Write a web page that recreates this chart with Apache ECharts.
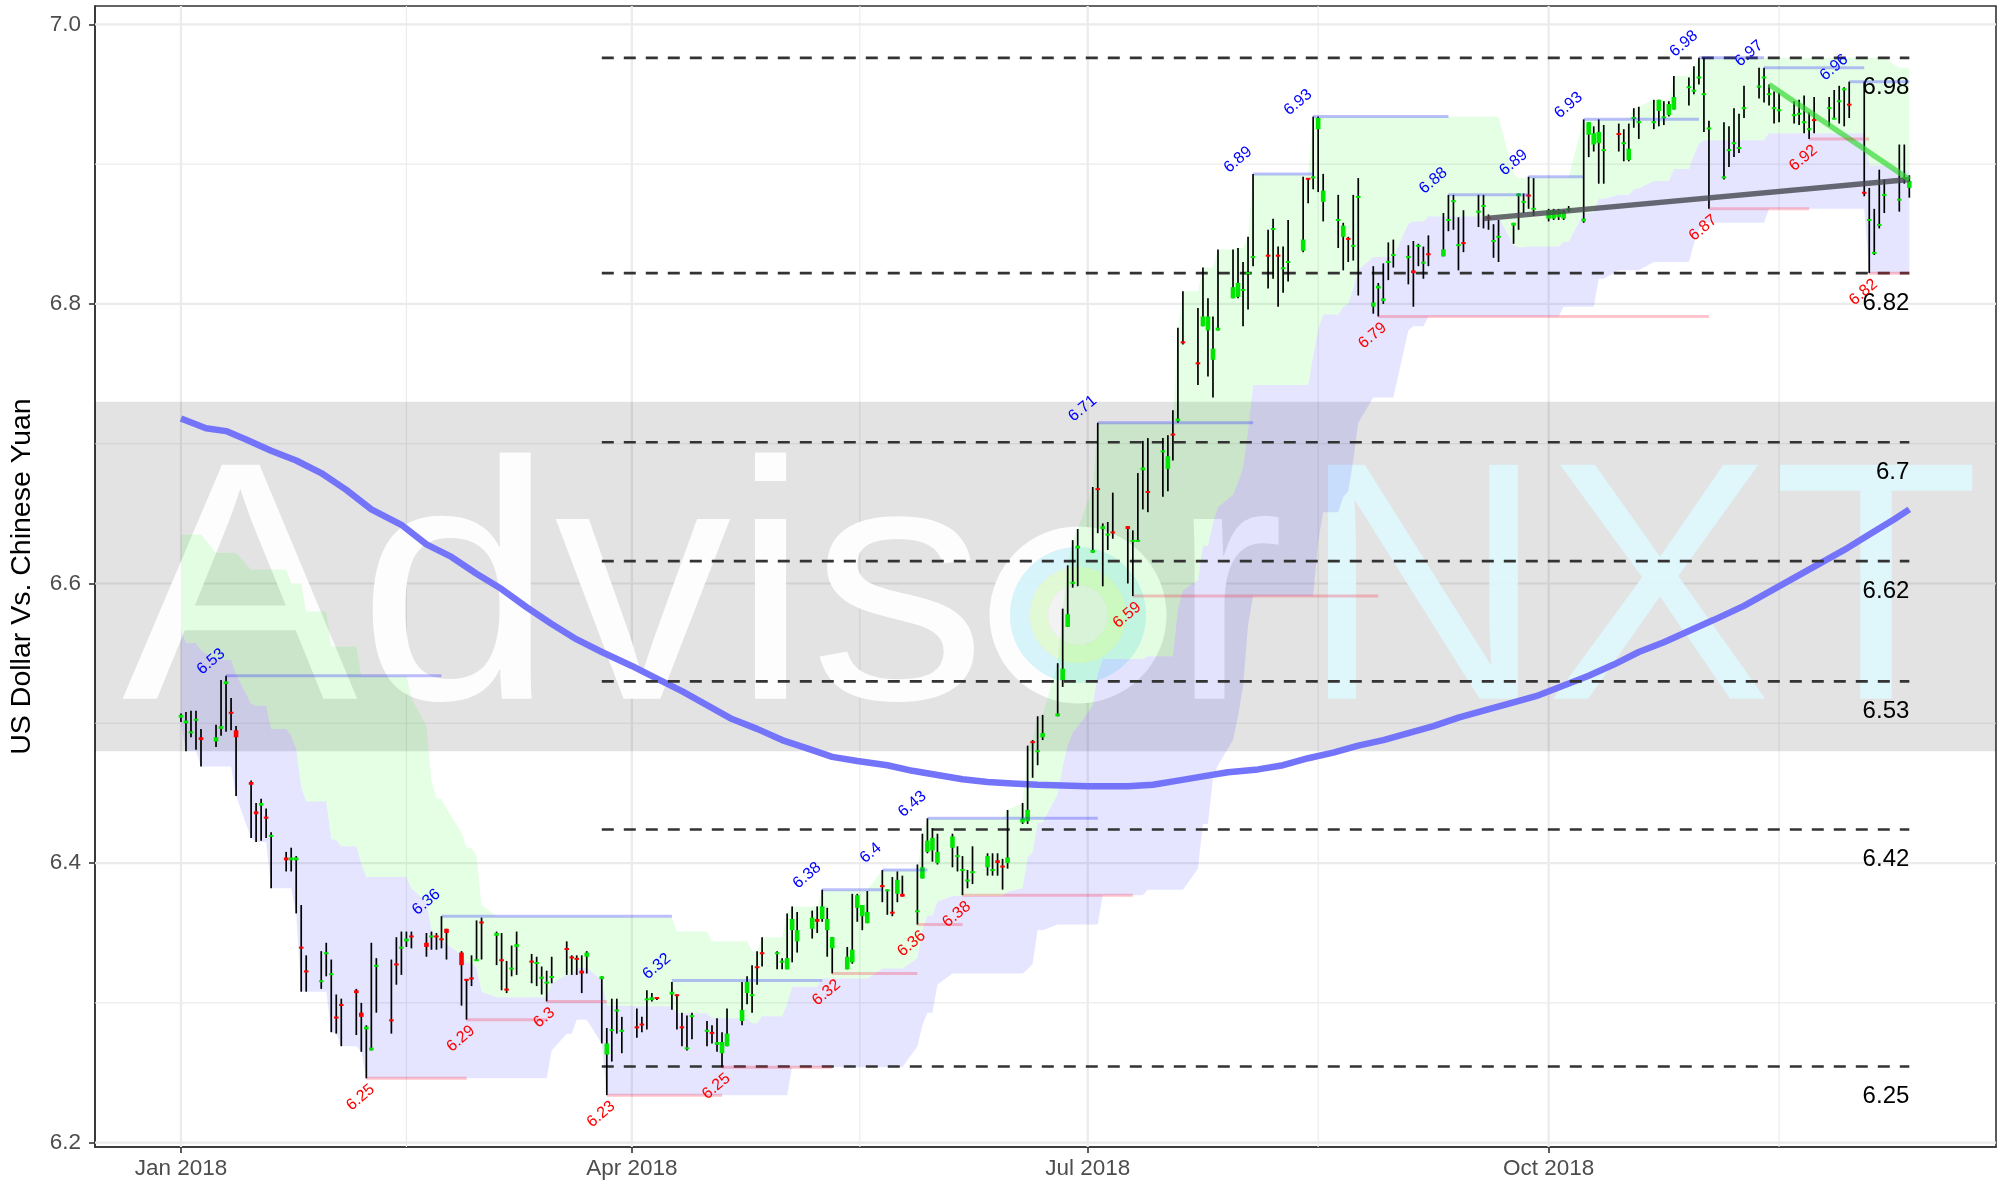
<!DOCTYPE html>
<html>
<head>
<meta charset="utf-8">
<title>US Dollar Vs. Chinese Yuan 2018</title>
<script src="https://cdn.jsdelivr.net/npm/echarts@6/dist/echarts.min.js"></script>
<style>
  html, body { margin: 0; padding: 0; background: #ffffff; }
  #chart { width: 2007px; height: 1186px; }
</style>
</head>
<body>
<div id="chart"></div>
<script>
// ---- axis setup ----
const DAY = 86400000;
const T0 = Date.UTC(2018, 0, 1);
const yMin = 6.1969, yMax = 7.0131;
const xMinDay = -17.16, xMaxDay = 362.3;
const xTickDates = ['2018-01-01', '2018-04-01', '2018-07-01', '2018-10-01'];
const xTickLabels = ['Jan 2018', 'Apr 2018', 'Jul 2018', 'Oct 2018'];
const yTicks = [6.2, 6.4, 6.6, 6.8, 7.0];
const yMinorTicks = [6.3, 6.5, 6.7, 6.9];
const bandRange = [6.48, 6.73];

// ---- daily candles, weekdays from 1 Jan 2018: [open, high, low, close] ----
const candles = [
  // Jan
  [6.504,6.507,6.501,6.506],[6.500,6.508,6.480,6.502],[6.493,6.509,6.490,6.494],[6.502,6.509,6.481,6.503],[6.490,6.496,6.469,6.488],
  [6.487,6.499,6.483,6.490],[6.496,6.531,6.491,6.498],[6.528,6.534,6.494,6.530],[6.508,6.518,6.495,6.507],[6.495,6.498,6.448,6.490],
  [6.458,6.459,6.418,6.456],[6.437,6.443,6.415,6.435],[6.441,6.446,6.416,6.443],[6.433,6.439,6.418,6.432],[6.419,6.422,6.382,6.420],
  [6.404,6.408,6.394,6.402],[6.402,6.411,6.394,6.404],[6.402,6.405,6.364,6.404],[6.340,6.370,6.308,6.339],[6.323,6.334,6.308,6.322],
  [6.315,6.337,6.310,6.316],[6.335,6.343,6.319,6.336],[6.320,6.331,6.279,6.321],[6.290,6.306,6.278,6.289],[6.299,6.303,6.269,6.298],
  // Feb
  [6.309,6.310,6.277,6.307],[6.293,6.300,6.265,6.290],[6.281,6.284,6.246,6.283],[6.266,6.343,6.266,6.268],[6.326,6.332,6.293,6.327],
  [6.288,6.331,6.278,6.287],[6.328,6.347,6.313,6.327],[6.339,6.351,6.320,6.340],[6.344,6.351,6.340,6.346],[6.348,6.351,6.339,6.347],
  [6.343,6.350,6.333,6.340],[6.347,6.351,6.338,6.348],[6.348,6.350,6.338,6.347],[6.346,6.362,6.339,6.345],[6.353,6.353,6.331,6.350],
  [6.336,6.337,6.298,6.327],[6.317,6.317,6.288,6.316],[6.318,6.334,6.312,6.317],[6.330,6.359,6.330,6.331],[6.358,6.361,6.331,6.357],
  // Mar
  [6.348,6.351,6.327,6.350],[6.331,6.350,6.309,6.330],[6.310,6.330,6.307,6.309],[6.324,6.341,6.319,6.325],[6.340,6.351,6.320,6.342],
  [6.330,6.335,6.314,6.329],[6.328,6.333,6.312,6.329],[6.318,6.326,6.306,6.318],[6.314,6.323,6.301,6.315],[6.318,6.333,6.314,6.319],
  [6.339,6.344,6.320,6.338],[6.333,6.334,6.320,6.332],[6.332,6.334,6.320,6.331],[6.323,6.334,6.307,6.321],[6.333,6.337,6.321,6.336],
  [6.317,6.319,6.271,6.319],[6.263,6.282,6.234,6.271],[6.280,6.303,6.258,6.281],[6.294,6.303,6.278,6.295],[6.280,6.290,6.264,6.280],
  // Apr
  [6.283,6.296,6.275,6.282],[6.285,6.290,6.279,6.284],[6.302,6.309,6.281,6.303],[6.302,6.307,6.301,6.304],[6.304,6.304,6.302,6.303],
  [6.306,6.315,6.295,6.308],[6.306,6.306,6.281,6.305],[6.283,6.293,6.269,6.282],[6.267,6.291,6.266,6.268],[6.290,6.293,6.274,6.291],
  [6.280,6.287,6.269,6.280],[6.279,6.284,6.271,6.278],[6.270,6.289,6.265,6.272],[6.264,6.279,6.254,6.272],[6.269,6.296,6.269,6.278],
  [6.287,6.315,6.284,6.295],[6.307,6.319,6.299,6.315],[6.305,6.327,6.293,6.306],[6.326,6.337,6.313,6.325],[6.336,6.347,6.326,6.335],
  // May
  [6.335,6.337,6.324,6.336],[6.329,6.332,6.324,6.330],[6.324,6.364,6.324,6.332],[6.352,6.369,6.329,6.360],[6.344,6.365,6.336,6.352],
  [6.353,6.366,6.346,6.361],[6.360,6.369,6.350,6.358],[6.360,6.381,6.358,6.369],[6.352,6.368,6.333,6.360],[6.339,6.347,6.321,6.347],
  [6.324,6.340,6.324,6.333],[6.329,6.378,6.328,6.338],[6.368,6.378,6.358,6.377],[6.362,6.370,6.352,6.370],[6.357,6.380,6.357,6.365],
  [6.384,6.395,6.372,6.383],[6.380,6.381,6.363,6.381],[6.365,6.390,6.362,6.364],[6.378,6.394,6.372,6.388],[6.378,6.391,6.376,6.376],
  [6.365,6.399,6.356,6.366],[6.389,6.421,6.389,6.397],[6.408,6.432,6.407,6.416],[6.409,6.425,6.401,6.418],[6.400,6.421,6.399,6.408],
  // Jun
  [6.411,6.421,6.397,6.419],[6.405,6.412,6.394,6.405],[6.395,6.405,6.377,6.395],[6.387,6.395,6.382,6.388],[6.393,6.412,6.385,6.394],
  [6.397,6.407,6.391,6.405],[6.395,6.407,6.391,6.395],[6.402,6.407,6.391,6.400],[6.398,6.403,6.381,6.397],[6.400,6.438,6.396,6.404],
  [6.429,6.443,6.428,6.432],[6.430,6.484,6.428,6.438],[6.487,6.488,6.461,6.486],[6.480,6.505,6.470,6.480],[6.490,6.506,6.488,6.493],
  [6.505,6.543,6.505,6.507],[6.531,6.582,6.526,6.539],[6.569,6.613,6.569,6.578],[6.600,6.631,6.597,6.601],[6.625,6.639,6.598,6.627],
  // Jul
  [6.622,6.669,6.622,6.624],[6.668,6.715,6.636,6.667],[6.639,6.643,6.598,6.641],[6.635,6.644,6.624,6.635],[6.637,6.665,6.632,6.636],
  [6.641,6.641,6.600,6.639],[6.630,6.638,6.591,6.631],[6.630,6.679,6.630,6.631],[6.681,6.702,6.653,6.683],[6.666,6.704,6.651,6.665],
  [6.694,6.704,6.662,6.695],[6.682,6.706,6.666,6.691],[6.707,6.724,6.688,6.706],[6.716,6.783,6.715,6.718],[6.773,6.809,6.771,6.772],
  [6.758,6.797,6.742,6.757],[6.784,6.826,6.784,6.791],[6.781,6.804,6.748,6.791],[6.760,6.791,6.733,6.768],[6.781,6.839,6.781,6.783],
  // Aug
  [6.804,6.839,6.804,6.812],[6.805,6.840,6.804,6.815],[6.810,6.830,6.784,6.810],[6.822,6.848,6.796,6.822],[6.833,6.893,6.827,6.834],
  [6.835,6.853,6.811,6.834],[6.853,6.861,6.818,6.854],[6.835,6.841,6.798,6.834],[6.825,6.841,6.808,6.826],[6.830,6.860,6.816,6.830],
  [6.838,6.891,6.837,6.846],[6.890,6.890,6.872,6.889],[6.890,6.934,6.882,6.891],[6.925,6.934,6.880,6.933],[6.873,6.893,6.859,6.881],
  [6.860,6.878,6.840,6.860],[6.848,6.858,6.824,6.856],[6.847,6.848,6.830,6.846],[6.841,6.878,6.831,6.842],[6.876,6.890,6.806,6.877],
  [6.798,6.827,6.793,6.801],[6.811,6.815,6.791,6.813],[6.802,6.829,6.800,6.804],[6.830,6.844,6.817,6.830],[6.835,6.846,6.826,6.835],
  // Sep
  [6.833,6.842,6.814,6.834],[6.824,6.845,6.798,6.822],[6.841,6.843,6.827,6.842],[6.829,6.841,6.818,6.830],[6.836,6.849,6.827,6.835],
  [6.834,6.865,6.834,6.839],[6.860,6.878,6.852,6.860],[6.873,6.878,6.853,6.874],[6.842,6.862,6.824,6.842],[6.844,6.867,6.837,6.843],
  [6.866,6.878,6.855,6.866],[6.870,6.878,6.854,6.870],[6.862,6.864,6.853,6.861],[6.845,6.857,6.833,6.845],[6.848,6.860,6.830,6.848],
  [6.856,6.858,6.843,6.858],[6.877,6.879,6.853,6.879],[6.873,6.879,6.865,6.873],[6.878,6.891,6.868,6.877],[6.868,6.890,6.863,6.868],
  // Oct
  [6.861,6.868,6.859,6.867],[6.861,6.868,6.860,6.867],[6.862,6.868,6.860,6.867],[6.861,6.867,6.860,6.866],[6.867,6.870,6.866,6.868],
  [6.859,6.932,6.858,6.861],[6.921,6.930,6.905,6.930],[6.914,6.927,6.909,6.922],[6.915,6.932,6.886,6.923],[6.910,6.928,6.886,6.910],
  [6.922,6.929,6.909,6.921],[6.915,6.925,6.902,6.915],[6.903,6.929,6.902,6.911],[6.933,6.940,6.926,6.933],[6.930,6.941,6.918,6.930],
  [6.930,6.946,6.925,6.930],[6.938,6.946,6.927,6.946],[6.933,6.945,6.928,6.934],[6.935,6.945,6.934,6.943],[6.939,6.963,6.939,6.948],
  [6.955,6.962,6.942,6.955],[6.952,6.970,6.950,6.953],[6.962,6.976,6.957,6.962],[6.950,6.976,6.923,6.950],[6.925,6.931,6.868,6.926],
  // Nov
  [6.890,6.930,6.889,6.891],[6.910,6.927,6.898,6.910],[6.915,6.940,6.905,6.915],[6.911,6.936,6.908,6.912],[6.940,6.956,6.933,6.940],
  [6.955,6.969,6.947,6.956],[6.962,6.969,6.944,6.962],[6.950,6.957,6.942,6.950],[6.940,6.952,6.929,6.940],[6.938,6.951,6.930,6.939],
  [6.935,6.945,6.929,6.935],[6.936,6.946,6.928,6.936],[6.930,6.949,6.922,6.930],[6.925,6.937,6.918,6.925],[6.932,6.948,6.922,6.931],
  [6.940,6.948,6.927,6.940],[6.932,6.953,6.932,6.933],[6.945,6.956,6.929,6.945],[6.953,6.955,6.927,6.954],[6.943,6.959,6.933,6.942],
  // Dec
  [6.880,6.959,6.877,6.879],[6.860,6.883,6.822,6.860],[6.836,6.868,6.835,6.837],[6.856,6.896,6.854,6.857],[6.878,6.889,6.865,6.878],
  [6.874,6.914,6.866,6.875],[6.890,6.914,6.886,6.890],[6.883,6.892,6.876,6.888]
];

// ---- channel (cloud) edges, read as step changes: [candle number, value] ----
const cloudTopSteps = [
  [1,6.635],[6,6.622],[11,6.61],[17,6.60],[20,6.58],[23,6.555],[27,6.534],[35,6.518],[36,6.498],[37,6.459],
  [38,6.446],[40,6.439],[41,6.422],[42,6.411],[44,6.405],[45,6.370],[46,6.362],[66,6.361],[72,6.351],[77,6.344],
  [83,6.337],[85,6.347],[88,6.364],[89,6.369],[93,6.381],[101,6.395],[107,6.421],[108,6.432],[120,6.438],[121,6.443],
  [122,6.484],[123,6.488],[124,6.505],[125,6.506],[126,6.543],[127,6.582],[128,6.613],[129,6.631],[130,6.639],[131,6.669],
  [132,6.715],[144,6.783],[145,6.809],[147,6.826],[150,6.839],[152,6.840],[154,6.848],[155,6.893],[163,6.934],[191,6.893],
  [192,6.890],[194,6.891],[201,6.932],[209,6.940],[210,6.941],[211,6.946],[215,6.963],[217,6.970],[218,6.976],[246,6.969]
];
const cloudBottomSteps = [
  [1,6.500],[2,6.480],[5,6.469],[10,6.448],[11,6.418],[12,6.415],[15,6.382],[18,6.364],[19,6.308],[23,6.279],
  [24,6.278],[25,6.269],[27,6.265],[28,6.246],[55,6.266],[56,6.278],[58,6.288],[61,6.271],[62,6.234],[89,6.254],
  [106,6.269],[107,6.284],[108,6.293],[110,6.313],[111,6.321],[122,6.324],[123,6.328],[124,6.352],[126,6.356],[133,6.377],
  [140,6.381],[146,6.396],[147,6.428],[149,6.461],[150,6.470],[151,6.488],[152,6.505],[153,6.526],[154,6.570],[155,6.591],
  [164,6.630],[165,6.651],[167,6.662],[168,6.666],[169,6.688],[170,6.715],[171,6.733],[176,6.781],[177,6.784],[180,6.791],
  [199,6.798],[204,6.818],[206,6.824],[211,6.830],[217,6.843],[218,6.853],[219,6.858],[228,6.868],[242,6.822]
];

// ---- moving average (days after 1 Jan, value) ----
const maDays = [0,5,9,13,18,23,28,33,38,44,49,54,59,64,69,74,79,84,90,95,100,105,110,115,120,125,130,135,141,146,
  151,156,161,166,171,181,189,194,199,204,209,215,220,225,230,235,240,245,250,255,260,266,271,276,281,286,291,296,301,306,
  312,317,322,327,332,337,342,345];
const maValues = [6.718,6.711,6.709,6.703,6.695,6.688,6.679,6.667,6.653,6.642,6.628,6.619,6.607,6.596,6.583,6.571,6.560,6.551,
  6.541,6.532,6.523,6.513,6.503,6.496,6.488,6.482,6.476,6.473,6.470,6.466,6.463,6.460,6.458,6.457,6.456,6.455,6.455,6.456,
  6.459,6.462,6.465,6.467,6.470,6.475,6.479,6.484,6.488,6.493,6.498,6.504,6.509,6.515,6.520,6.527,6.534,6.542,6.551,6.558,
  6.566,6.574,6.584,6.594,6.604,6.614,6.624,6.635,6.646,6.653];

// ---- swing highs / lows: [candle number, level, runs until candle number, label] ----
const highPivots = [
  [8,6.534,39,'6.53'],[39,6.362,71,'6.36'],[71,6.316,93,'6.32'],[93,6.381,101,'6.38'],[101,6.395,108,'6.4'],
  [108,6.432,132,'6.43'],[132,6.715,155,'6.71'],[155,6.893,163,'6.89'],[163,6.934,182,'6.93'],[182,6.878,194,'6.88'],
  [194,6.891,201,'6.89'],[201,6.932,218,'6.93'],[218,6.976,227,'6.98'],[227,6.969,241,'6.97'],[240,6.959,248,'6.96']
];
const lowPivots = [
  [28,6.246,42,'6.25'],[42,6.288,54,'6.29'],[54,6.301,62,'6.3'],[62,6.234,79,'6.23'],[79,6.254,95,'6.25'],
  [95,6.321,106,'6.32'],[106,6.356,113,'6.36'],[113,6.377,137,'6.38'],[137,6.591,172,'6.59'],[172,6.791,220,'6.79'],
  [220,6.868,234,'6.87'],[234,6.918,242,'6.92'],[242,6.822,248,'6.82']
];

// ---- horizontal levels (from the March low to the last day) ----
const levelValues = [6.976, 6.822, 6.701, 6.616, 6.530, 6.424, 6.2545];
const levelLabels = ['6.98', '6.82', '6.7', '6.62', '6.53', '6.42', '6.25'];
const levelStart = '2018-03-26', levelEnd = '2018-12-12';

// ---- trend lines ----
const greyTrend = [['2018-09-18', 6.861], ['2018-12-12', 6.889]];
const greenTrend = [['2018-11-14', 6.957], ['2018-12-12', 6.889]];

// ====================================================================
const FONT = '"Liberation Sans", Arial, Helvetica, sans-serif';
const n = candles.length;
const ts = s => { const p = s.split('-'); return Date.UTC(+p[0], +p[1] - 1, +p[2]); };

function tradingDates(count) {
  const out = [];
  let t = T0;
  while (out.length < count) {
    const wd = new Date(t).getUTCDay();
    if (wd !== 0 && wd !== 6) out.push(t);
    t += DAY;
  }
  return out;
}
const dates = tradingDates(n);

function expandSteps(steps) {
  const out = [];
  let k = 0;
  for (let i = 0; i < n; i++) {
    while (k + 1 < steps.length && steps[k + 1][0] <= i + 1) k++;
    out.push(steps[k][1]);
  }
  return out;
}
const upper = expandSteps(cloudTopSteps);
const lower = expandSteps(cloudBottomSteps);
const middle = upper.map((u, i) => (u + lower[i]) / 2);

const xMin = T0 + xMinDay * DAY, xMax = T0 + xMaxDay * DAY;
const xTicks = xTickDates.map(ts);
const xMinor = [];
for (let i = 0; i < xTicks.length; i++) {
  const next = i + 1 < xTicks.length ? xTicks[i + 1] : xTicks[i] + (xTicks[i] - xTicks[i - 1]);
  xMinor.push((xTicks[i] + next) / 2);
}

function ribbon(topArr, botArr, fill, z) {
  return {
    type: 'custom', z: z, silent: true,
    data: [[dates[0], botArr[0]]],
    encode: { x: 0, y: 1 },
    renderItem: function (params, api) {
      const pts = [];
      for (let i = 0; i < n; i++) pts.push(api.coord([dates[i], topArr[i]]));
      for (let i = n - 1; i >= 0; i--) pts.push(api.coord([dates[i], botArr[i]]));
      return { type: 'polygon', shape: { points: pts }, style: { fill: fill } };
    }
  };
}

function pivotSeries(rows, isHigh) {
  const lineColor = isHigh ? 'rgba(40,40,255,0.30)' : 'rgba(255,20,50,0.25)';
  const textColor = isHigh ? '#0000ff' : '#ff0000';
  return {
    type: 'custom', z: 9, silent: true,
    data: rows.map(r => [dates[r[0] - 1], r[1], dates[r[2] - 1]]),
    encode: { x: 0, y: 1 },
    renderItem: function (params, api) {
      const row = rows[params.dataIndex];
      const a = api.coord([api.value(0), api.value(1)]);
      const b = api.coord([api.value(2), api.value(1)]);
      return {
        type: 'group', children: [
          { type: 'line', shape: { x1: a[0], y1: a[1], x2: b[0], y2: b[1] },
            style: { stroke: lineColor, lineWidth: 3 } },
          { type: 'text', x: a[0] + (isHigh ? 2 : 1), y: a[1] + (isHigh ? -18 : 3),
            rotation: 40 * Math.PI / 180,
            style: { text: row[3], fill: textColor, font: '16px ' + FONT,
                     align: 'right', verticalAlign: isHigh ? 'bottom' : 'top' } }
        ]
      };
    }
  };
}

const chart = echarts.init(document.getElementById('chart'), null, { renderer: 'canvas' });

const option = {
  animation: false,
  backgroundColor: '#ffffff',
  grid: { left: 95, right: 11, top: 6, bottom: 39, show: true, borderColor: '#333333', borderWidth: 1.6,
          backgroundColor: 'transparent' },
  xAxis: {
    type: 'value', min: xMin, max: xMax, scale: true,
    axisLine: { show: true, onZero: false, lineStyle: { color: '#333333', width: 1.6 } },
    axisTick: { show: true, length: 6, customValues: xTicks, lineStyle: { color: '#333333', width: 1.6 } },
    axisLabel: {
      customValues: xTicks, margin: 10, color: '#4d4d4d', fontSize: 22.5, fontFamily: FONT,
      formatter: function (v) {
        let best = 0;
        for (let i = 1; i < xTicks.length; i++) if (Math.abs(xTicks[i] - v) < Math.abs(xTicks[best] - v)) best = i;
        return xTickLabels[best];
      }
    },
    splitLine: { show: false }
  },
  yAxis: {
    type: 'value', min: yMin, max: yMax, scale: true,
    name: 'US Dollar Vs. Chinese Yuan', nameLocation: 'middle', nameGap: 58,
    nameTextStyle: { fontSize: 28.5, color: '#000000', fontFamily: FONT },
    axisLine: { show: true, onZero: false, lineStyle: { color: '#333333', width: 1.6 } },
    axisTick: { show: true, length: 6, customValues: yTicks, lineStyle: { color: '#333333', width: 1.6 } },
    axisLabel: { customValues: yTicks, margin: 14, color: '#4d4d4d', fontSize: 22.5, fontFamily: FONT,
                 formatter: v => Number(v).toFixed(1) },
    splitLine: { show: false }
  },
  graphic: {
    elements: [
      { type: 'text', x: 122, y: 605, z: 2, silent: true, scaleX: 1.04,
        style: { text: 'Advis', font: '340px ' + FONT, fill: 'rgba(255,255,255,0.93)', verticalAlign: 'middle' } },
      { type: 'circle', z: 2, silent: true, shape: { cx: 1078, cy: 615, r: 78 },
        style: { fill: 'none', stroke: 'rgba(255,255,255,0.93)', lineWidth: 21 } },
      { type: 'circle', z: 2, silent: true, shape: { cx: 1078, cy: 615, r: 58 },
        style: { fill: 'none', stroke: 'rgba(214,244,252,0.95)', lineWidth: 20 } },
      { type: 'circle', z: 2, silent: true, shape: { cx: 1078, cy: 615, r: 39 },
        style: { fill: 'none', stroke: 'rgba(226,250,212,0.95)', lineWidth: 18 } },
      { type: 'circle', z: 2, silent: true, shape: { cx: 1078, cy: 615, r: 30 },
        style: { fill: 'rgba(242,242,242,0.95)' } },
      { type: 'text', x: 1171, y: 605, z: 2, silent: true,
        style: { text: 'r', font: '340px ' + FONT, fill: 'rgba(255,255,255,0.93)', verticalAlign: 'middle' } },
      { type: 'text', x: 1300, y: 605, z: 2, silent: true,
        style: { text: 'NXT', font: '340px ' + FONT, fill: 'rgba(222,247,252,0.95)', verticalAlign: 'middle' } }
    ]
  },
  series: [
    // panel grid and shaded band
    {
      type: 'custom', z: 1, silent: true,
      data: [[dates[0], 6.5]], encode: { x: 0, y: 1 },
      renderItem: function (params, api) {
        const cs = params.coordSys;
        const kids = [];
        const vline = (t, w) => {
          const x = api.coord([t, yMin])[0];
          kids.push({ type: 'line', shape: { x1: x, y1: cs.y, x2: x, y2: cs.y + cs.height },
                      style: { stroke: '#ebebeb', lineWidth: w } });
        };
        const hline = (v, w) => {
          const y = api.coord([xMin, v])[1];
          kids.push({ type: 'line', shape: { x1: cs.x, y1: y, x2: cs.x + cs.width, y2: y },
                      style: { stroke: '#ebebeb', lineWidth: w } });
        };
        xMinor.forEach(t => vline(t, 1.1));
        yMinorTicks.forEach(v => hline(v, 1.1));
        xTicks.forEach(t => vline(t, 2.2));
        yTicks.forEach(v => hline(v, 2.2));
        const y1 = api.coord([xMin, bandRange[1]])[1], y2 = api.coord([xMin, bandRange[0]])[1];
        kids.push({ type: 'rect', shape: { x: cs.x, y: y1, width: cs.width, height: y2 - y1 },
                    style: { fill: 'rgba(0,0,0,0.11)' } });
        return { type: 'group', children: kids };
      }
    },
    ribbon(middle, lower, 'rgba(0,0,255,0.10)', 3),
    ribbon(upper, middle, 'rgba(0,255,0,0.10)', 3),
    {
      type: 'line', z: 4, silent: true, symbol: 'none', smooth: false,
      data: maDays.map((d, i) => [T0 + d * DAY, maValues[i]]),
      lineStyle: { color: '#7474fa', width: 6.5 }
    },
    pivotSeries(highPivots, true),
    pivotSeries(lowPivots, false),
    // dashed levels with labels
    {
      type: 'custom', z: 6, silent: true,
      data: levelValues.map(v => [ts(levelStart), v, ts(levelEnd)]),
      encode: { x: 0, y: 1 },
      renderItem: function (params, api) {
        const a = api.coord([api.value(0), api.value(1)]);
        const b = api.coord([api.value(2), api.value(1)]);
        return {
          type: 'group', children: [
            { type: 'line', shape: { x1: a[0], y1: a[1], x2: b[0], y2: b[1] },
              style: { stroke: '#333333', lineWidth: 2.6, lineDash: [12, 10] } },
            { type: 'text', x: b[0], y: b[1] + 18,
              style: { text: levelLabels[params.dataIndex], fill: '#000000', font: '24px ' + FONT,
                       align: 'right', verticalAlign: 'top' } }
          ]
        };
      }
    },
    // candles
    {
      type: 'custom', z: 7, silent: true,
      data: candles.map((c, i) => [dates[i], c[0], c[1], c[2], c[3]]),
      encode: { x: 0, y: [1, 2, 3, 4] },
      renderItem: function (params, api) {
        const t = api.value(0), o = api.value(1), h = api.value(2), l = api.value(3), c = api.value(4);
        const pH = api.coord([t, h]), pL = api.coord([t, l]);
        const yo = api.coord([t, o])[1], yc = api.coord([t, c])[1];
        let top = Math.min(yo, yc), bot = Math.max(yo, yc);
        if (bot - top < 2) { const m = (top + bot) / 2; top = m - 1; bot = m + 1; }
        return {
          type: 'group', children: [
            { type: 'line', shape: { x1: pH[0], y1: pH[1], x2: pL[0], y2: pL[1] },
              style: { stroke: '#000000', lineWidth: 1.7 } },
            { type: 'rect', shape: { x: pH[0] - 2.3, y: top, width: 4.6, height: bot - top },
              style: { fill: c >= o ? '#00e600' : '#ff0000' } }
          ]
        };
      }
    },
    {
      type: 'line', z: 8, silent: true, symbol: 'none',
      data: greyTrend.map(p => [ts(p[0]), p[1]]),
      lineStyle: { color: 'rgba(70,70,80,0.8)', width: 5.5 }
    },
    {
      type: 'line', z: 8, silent: true, symbol: 'none',
      data: greenTrend.map(p => [ts(p[0]), p[1]]),
      lineStyle: { color: 'rgba(40,215,40,0.65)', width: 5.5 }
    }
  ]
};

chart.setOption(option);
</script>
</body>
</html>
